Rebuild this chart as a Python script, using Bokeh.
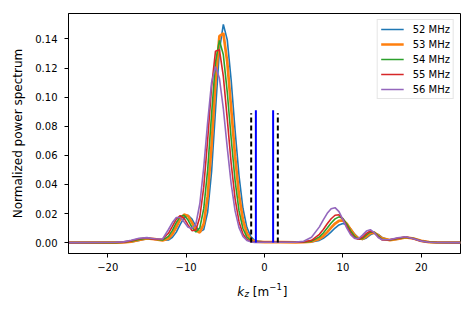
from bokeh.plotting import figure
from bokeh.layouts import column
from bokeh.models import Range1d, FixedTicker, NumeralTickFormatter
from bokeh.core.properties import value
from bokeh.embed import file_html
from bokeh.resources import INLINE

# ---------------- data ----------------
kz = [-25, -19, -18, -17, -16, -15, -14, -13,
      -12.25, -11.75, -11.25, -10.75, -10.25, -9.75, -9.25, -8.75, -8.25, -7.75,
      -7.25, -6.75, -6.25, -5.75, -5.25, -4.75, -4.25, -3.75, -3.25, -2.75,
      -2.25, -1.75, -1.25, 0, 2, 4, 5, 6, 7, 7.5, 8, 8.5, 9, 9.5, 10, 10.5,
      11, 11.5, 12, 12.5, 13, 13.5, 14, 14.5, 15, 16, 17, 18, 19, 20, 21, 22, 25]

p52 = [0, 0, 0.0001, 0.0004, 0.0014, 0.0026, 0.0026, 0.0016,
       0.0018, 0.0036, 0.0072, 0.0125, 0.0171, 0.0188, 0.0162, 0.0111, 0.0074, 0.0089,
       0.021, 0.0488, 0.0911, 0.1323, 0.150, 0.1394, 0.1116, 0.0771, 0.0459, 0.0236,
       0.0105, 0.0041, 0.0014, 0.0003, 0.0003, 0.0002, 0.0002, 0.0004, 0.0015, 0.0029,
       0.0049, 0.0074, 0.0100, 0.0121, 0.0131, 0.0123,
       0.0094, 0.0058, 0.0031, 0.0022, 0.0032, 0.0053, 0.0066, 0.0056, 0.0035, 0.0016,
       0.0023, 0.0035, 0.0029, 0.0013, 0.0003, 0.0001, 0]

p53 = [0, 0, 0.0001, 0.0007, 0.0019, 0.0029, 0.0024, 0.0015,
       0.0028, 0.0059, 0.0107, 0.0161, 0.0193, 0.0183, 0.0137, 0.0085, 0.0069, 0.0129,
       0.0319, 0.0671, 0.1106, 0.142, 0.1439, 0.1241, 0.0923, 0.0592, 0.0327, 0.0157,
       0.0064, 0.0023, 0.0007, 0.0003, 0.0003, 0.0002, 0.0003, 0.0007, 0.0025, 0.0045,
       0.0072, 0.0103, 0.0131, 0.0150, 0.0153, 0.0129,
       0.0089, 0.0051, 0.0028, 0.0025, 0.0043, 0.0064, 0.0069, 0.0050, 0.0029, 0.0017,
       0.0025, 0.0036, 0.0028, 0.0012, 0.0003, 0.0001, 0]

p54 = [0, 0, 0.0002, 0.0009, 0.0022, 0.0030, 0.0023, 0.0018,
       0.0043, 0.0084, 0.0137, 0.0180, 0.0188, 0.0155, 0.0104, 0.0073, 0.0101, 0.0233,
       0.050, 0.0883, 0.1241, 0.139, 0.1291, 0.1034, 0.0714, 0.0425, 0.0218, 0.0097,
       0.0038, 0.0013, 0.0003, 0.0003, 0.0003, 0.0002, 0.0003, 0.0010, 0.0039, 0.0066,
       0.0100, 0.0135, 0.0163, 0.0177, 0.0166, 0.0127,
       0.0079, 0.0042, 0.0024, 0.0029, 0.0053, 0.0073, 0.0070, 0.0046, 0.0023, 0.0018,
       0.0028, 0.0037, 0.0028, 0.0011, 0.0003, 0.0001, 0]

p55 = [0, 0.0001, 0.0003, 0.0012, 0.0026, 0.0032, 0.0022, 0.0025,
       0.0064, 0.0112, 0.0161, 0.0185, 0.0167, 0.0122, 0.0082, 0.0087, 0.0176, 0.0381,
       0.0708, 0.107, 0.1316, 0.1326, 0.1143, 0.0851, 0.0545, 0.0301, 0.0144, 0.0059,
       0.0022, 0.0007, 0.0002, 0.0003, 0.0003, 0.0002, 0.0004, 0.0016, 0.0057, 0.0090,
       0.0129, 0.0164, 0.0188, 0.0191, 0.0162, 0.0112,
       0.0063, 0.0032, 0.0023, 0.0037, 0.0063, 0.0080, 0.0068, 0.0040, 0.0018, 0.0019,
       0.0030, 0.0038, 0.0027, 0.0010, 0.0002, 0.0001, 0]

p56 = [0, 0.0002, 0.0005, 0.0016, 0.0030, 0.0034, 0.0026, 0.0025,
       0.0090, 0.0138, 0.0173, 0.0172, 0.0142, 0.0105, 0.0098, 0.0128, 0.0267, 0.0517,
       0.0829, 0.1101, 0.121, 0.113, 0.092, 0.0653, 0.0404, 0.0218, 0.0103, 0.0042,
       0.0015, 0.0005, 0.0001, 0.0002, 0.0002, 0.0003, 0.0009, 0.0037, 0.0108, 0.0156,
       0.0201, 0.0233, 0.0240, 0.0213, 0.0158, 0.0099,
       0.0053, 0.0028, 0.0027, 0.0051, 0.0079, 0.0089, 0.0068, 0.0035, 0.0020, 0.0021,
       0.0033, 0.0040, 0.0026, 0.0010, 0.0002, 0.0001, 0]

series_names = ["52 MHz", "53 MHz", "54 MHz", "55 MHz", "56 MHz"]
series_values = [p52, p53, p54, p55, p56]
series_colors = ["#1f77b4", "#ff7f0e", "#2ca02c", "#d62728", "#9467bd"]
series_widths = [1.6, 2.7, 1.6, 1.6, 1.6]

solid_kz = [-1.1, 1.1]
solid_top = 0.091
dashed_kz = [-1.7, 1.7]
dashed_top = 0.089

x_ticks = [-20, -10, 0, 10, 20]
x_tick_labels = ["\u221220", "\u221210", "0", "10", "20"]
y_ticks = [0.0, 0.02, 0.04, 0.06, 0.08, 0.10, 0.12, 0.14]

FONT = "DejaVu Sans"
W = 464
LEFT, RIGHT = 68, 4

# ---------------- main figure ----------------
p = figure(width=W, height=276, output_backend="svg", toolbar_location=None,
           x_range=Range1d(-25, 25), y_range=Range1d(-0.0075, 0.1575),
           min_border_left=LEFT, min_border_right=RIGHT, min_border_top=13,
           min_border_bottom=23, title=None)
p.background_fill_color = "white"
p.border_fill_color = "white"
p.outline_line_color = "black"
p.outline_line_width = 1
p.outline_line_alpha = 1
p.xgrid.grid_line_color = None
p.ygrid.grid_line_color = None

for name, ys, col, w in zip(series_names, series_values, series_colors, series_widths):
    p.line(kz, ys, line_color=col, line_width=w, legend_label=name)

p.segment(x0=solid_kz, y0=[0] * len(solid_kz), x1=solid_kz,
          y1=[solid_top] * len(solid_kz), line_color="#0000ff", line_width=2)
p.segment(x0=dashed_kz, y0=[0] * len(dashed_kz), x1=dashed_kz,
          y1=[dashed_top] * len(dashed_kz), line_color="black", line_width=2,
          line_dash="5 3")

p.xaxis.ticker = FixedTicker(ticks=x_ticks)
p.xaxis.major_label_overrides = {t: l for t, l in zip(x_ticks, x_tick_labels)}
p.yaxis.ticker = FixedTicker(ticks=y_ticks)
p.yaxis.formatter = NumeralTickFormatter(format="0.00")
for ax in (p.xaxis[0], p.yaxis[0]):
    ax.major_tick_out = 4
    ax.major_tick_in = 0
    ax.minor_tick_out = 0
    ax.minor_tick_in = 0
    ax.axis_line_color = "black"
    ax.major_tick_line_color = "black"
    ax.major_label_text_font = FONT
    ax.major_label_text_font_size = "10px"
    ax.major_label_text_color = "black"
p.xaxis.major_label_standoff = 5
p.yaxis.major_label_standoff = 7
p.yaxis.axis_label = "Normalized power spectrum"
p.yaxis.axis_label_text_font = FONT
p.yaxis.axis_label_text_font_size = "12px"
p.yaxis.axis_label_text_font_style = "normal"
p.yaxis.axis_label_text_color = "black"
p.yaxis.axis_label_standoff = 7

lg = p.legend[0]
lg.location = "top_right"
lg.margin = 6
lg.padding = 3
lg.spacing = 3
lg.label_height = 12
lg.glyph_height = 12
lg.glyph_width = 23
lg.label_standoff = 9
lg.label_text_font = FONT
lg.label_text_font_size = "10px"
lg.label_text_color = "black"
lg.border_line_color = "#cccccc"
lg.border_line_width = 1
lg.background_fill_alpha = 0.8

# ---------------- strip holding the x-axis label k_z [m^-1] ----------------
q = figure(width=W, height=26, output_backend="svg", toolbar_location=None,
           x_range=p.x_range, y_range=Range1d(0, 26),
           min_border_left=LEFT, min_border_right=RIGHT, min_border_top=0,
           min_border_bottom=0, title=None)
q.axis.visible = False
q.grid.visible = False
q.outline_line_color = None
q.background_fill_color = "white"
q.border_fill_color = "white"

parts = [
    ("k", -3.48, 11, "12px", "italic"),
    ("z", -2.56, 8.3, "8.5px", "italic"),
    ("[m", -1.49, 11, "12px", "normal"),
    ("\u22121", 0.61, 16, "8.5px", "normal"),
    ("]", 2.32, 11, "12px", "normal"),
]
for txt, xx, yy, fs, st in parts:
    q.text(x=[xx], y=[yy], text=[txt], text_font=value(FONT), text_font_size=fs,
           text_font_style=st, text_color="black", text_baseline="alphabetic",
           text_align="left")

layout = column(p, q, spacing=0)
open("out.html", "w").write(file_html(layout, INLINE))
